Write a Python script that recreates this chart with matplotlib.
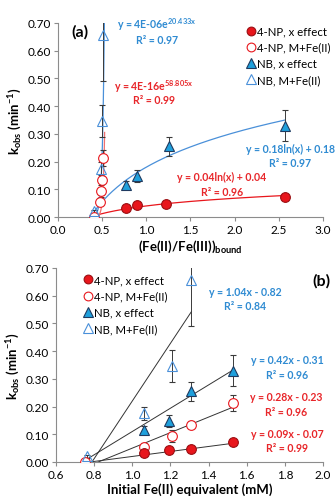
import matplotlib
matplotlib.use("Agg")
import matplotlib.pyplot as plt
import numpy as np

plt.rcParams['font.family'] = ['Lato', 'DejaVu Sans']
plt.rcParams['mathtext.fontset'] = 'custom'
plt.rcParams['mathtext.rm'] = 'Lato'
plt.rcParams['mathtext.bf'] = 'Lato:bold'
plt.rcParams['mathtext.default'] = 'bf'

# panel (a): k_obs vs (Fe(II)/Fe(III))bound
ratio_np_x = [0.77, 0.90, 1.22, 2.57]
ratio_np_m = [0.41, 0.48, 0.49, 0.50, 0.51]
ratio_nb_x = [0.77, 0.89, 1.26, 2.57]
ratio_nb_m = [0.41, 0.49, 0.50, 0.51]

# panel (b): k_obs vs initial Fe(II)
fe_np_x = [1.06, 1.19, 1.31, 1.53]
fe_np_m = [0.75, 1.06, 1.21, 1.31, 1.53]
fe_nb_x = [1.06, 1.19, 1.31, 1.53]
fe_nb_m = [0.76, 1.06, 1.21, 1.31]

k_np_x = [0.033, 0.042, 0.048, 0.072]
k_np_m = [0.000, 0.055, 0.093, 0.135, 0.213]
k_nb_x = [0.115, 0.148, 0.255, 0.330]
k_nb_m = [0.020, 0.175, 0.345, 0.655]

err_np_x = [0.004, 0.004, 0.004, 0.005]
err_np_m = [0.003, 0.012, 0.022, 0.012, 0.028]
err_nb_x = [0.015, 0.020, 0.035, 0.055]
err_nb_m = [0.005, 0.025, 0.058, 0.165]

# trendline parameters
log_nb = (0.18, 0.18)
log_np = (0.04, 0.04)
exp_nb = (3.9e-11, 45.0)   # drawn curve
exp_np = (1.0e-14, 58.805)
lin_b = {'np_x': (0.09, -0.07), 'np_m': (0.28, -0.23),
         'nb_x': (0.42, -0.31), 'nb_m': (1.04, -0.82)}

RED = '#E8161C'
RED_EDGE = '#9A0E12'
BLUE = '#1FA0DC'
BLUE_EDGE = '#1F3A60'
LBLUE = '#4A90D9'
RTXT = '#E8262A'
BTXT = '#2F8BD2'
EBAR = '#3A3A3A'
AX = '#8C8C8C'

fig = plt.figure(figsize=(3.36, 5.02), dpi=100)
ax1 = fig.add_axes([0.1726, 0.5657, 0.7887, 0.3865])
ax2 = fig.add_axes([0.1667, 0.0777, 0.7946, 0.3865])


def style(ax):
    for s in ['top', 'right']:
        ax.spines[s].set_visible(False)
    for s in ['left', 'bottom']:
        ax.spines[s].set_color(AX)
        ax.spines[s].set_linewidth(0.8)
    ax.tick_params(direction='out', length=3, width=0.8, color=AX,
                   labelsize=8.5, pad=2)
    ax.set_ylim(0, 0.70)
    ax.set_yticks(np.arange(0, 0.71, 0.1))
    ax.set_yticklabels(['%.2f' % v for v in np.arange(0, 0.71, 0.1)])
    ax.set_ylabel('k$_{obs}$ (min$^{-1}$)', fontsize=9.5, fontweight='bold',
                  labelpad=3)


def series(ax, x, y, e):
    kw = dict(mew=0.8, ecolor=EBAR, elinewidth=0.7, capsize=2, capthick=0.7)
    ax.errorbar(x[0], y[0], yerr=e[0], fmt='o', ms=7, mfc=RED, mec=RED_EDGE,
                zorder=5, label='4-NP, x effect', **kw)
    ax.errorbar(x[1], y[1], yerr=e[1], fmt='o', ms=7, mfc='white', mec=RED,
                zorder=4, label='4-NP, M+Fe(II)', **kw)
    ax.errorbar(x[2], y[2], yerr=e[2], fmt='^', ms=7.5, mfc=BLUE, mec=BLUE_EDGE,
                zorder=5, label='NB, x effect', **kw)
    ax.errorbar(x[3], y[3], yerr=e[3], fmt='^', ms=7.5, mfc='none', mec=LBLUE,
                zorder=4, label='NB, M+Fe(II)', **kw)


def legend(ax, loc, anchor):
    h, l = ax.get_legend_handles_labels()
    h = [hh[0] for hh in h]
    ax.legend(h, l, loc=loc, bbox_to_anchor=anchor, frameon=False,
              fontsize=8.2, handlelength=0.6, handletextpad=0.2,
              labelspacing=0.45, borderaxespad=0, markerscale=0.9)


# ---- panel (a)
style(ax1)
ax1.set_xlim(0, 3.0)
ax1.set_xticks(np.arange(0, 3.01, 0.5))
ax1.set_xticklabels(['%.1f' % v for v in np.arange(0, 3.01, 0.5)])
ax1.set_xlabel('(Fe(II)/Fe(III))$_{bound}$', fontsize=9.5, fontweight='bold',
               labelpad=2)

xs = np.linspace(0.41, 2.57, 200)
ax1.plot(xs, log_nb[0] * np.log(xs) + log_nb[1], color=LBLUE, lw=0.9, zorder=2)
xs = np.linspace(0.42, 2.57, 200)
ax1.plot(xs, log_np[0] * np.log(xs) + log_np[1], color=RED, lw=0.9, zorder=2)
xs = np.linspace(0.40, 0.53, 200)
ax1.plot(xs, exp_nb[0] * np.exp(exp_nb[1] * xs), color=LBLUE, lw=0.9, zorder=2)
xs = np.linspace(0.44, 0.528, 200)
ax1.plot(xs, exp_np[0] * np.exp(exp_np[1] * xs), color='#F07070', lw=0.9, zorder=2)

series(ax1, [ratio_np_x, ratio_np_m, ratio_nb_x, ratio_nb_m],
       [k_np_x, k_np_m, k_nb_x, k_nb_m],
       [err_np_x, err_np_m, err_nb_x, err_nb_m])
legend(ax1, 'upper left', (0.70, 1.01))

tk = dict(fontsize=7.6, fontweight='bold', ha='center', va='center',
          transform=fig.transFigure)
ax1.text(157 / 336, 1 - 25 / 502, 'y = 4E-06e$^{20.433x}$', color=BTXT, **tk)
ax1.text(157 / 336, 1 - 40 / 502, 'R² = 0.97', color=BTXT, **tk)
ax1.text(154 / 336, 1 - 87 / 502, 'y = 4E-16e$^{58.805x}$', color=RTXT, **tk)
ax1.text(154 / 336, 1 - 101 / 502, 'R² = 0.99', color=RTXT, **tk)
ax1.text(290 / 336, 1 - 149 / 502, 'y = 0.18ln(x) + 0.18', color=BTXT, **tk)
ax1.text(290 / 336, 1 - 164 / 502, 'R² = 0.97', color=BTXT, **tk)
ax1.text(222 / 336, 1 - 177 / 502, 'y = 0.04ln(x) + 0.04', color=RTXT, **tk)
ax1.text(222 / 336, 1 - 192 / 502, 'R² = 0.96', color=RTXT, **tk)
fig.text(80 / 336, 1 - 32 / 502, '(a)', fontsize=11.5, fontweight='bold',
         ha='center', va='center')

# ---- panel (b)
style(ax2)
ax2.set_xlim(0.6, 2.0)
ax2.set_xticks(np.arange(0.6, 2.01, 0.2))
ax2.set_xticklabels(['%.1f' % v for v in np.arange(0.6, 2.01, 0.2)])
ax2.set_xlabel('Initial Fe(II) equivalent (mM)', fontsize=9.5,
               fontweight='bold', labelpad=2)

for key, xmax in [('np_x', 1.53), ('np_m', 1.53), ('nb_x', 1.53), ('nb_m', 1.31)]:
    m, c = lin_b[key]
    xs = np.array([0.76, xmax])
    ax2.plot(xs, m * xs + c, color='#333333', lw=0.7, zorder=2)

series(ax2, [fe_np_x, fe_np_m, fe_nb_x, fe_nb_m],
       [k_np_x, k_np_m, k_nb_x, k_nb_m],
       [err_np_x, err_np_m, err_nb_x, err_nb_m])
legend(ax2, 'upper left', (0.09, 0.99))

ax2.text(245 / 336, 1 - 292 / 502, 'y = 1.04x - 0.82', color=BTXT, **tk)
ax2.text(245 / 336, 1 - 307 / 502, 'R² = 0.84', color=BTXT, **tk)
ax2.text(287 / 336, 1 - 361 / 502, 'y = 0.42x - 0.31', color=BTXT, **tk)
ax2.text(287 / 336, 1 - 376 / 502, 'R² = 0.96', color=BTXT, **tk)
ax2.text(286 / 336, 1 - 398 / 502, 'y = 0.28x - 0.23', color=RTXT, **tk)
ax2.text(286 / 336, 1 - 412 / 502, 'R² = 0.96', color=RTXT, **tk)
ax2.text(287 / 336, 1 - 435 / 502, 'y = 0.09x - 0.07', color=RTXT, **tk)
ax2.text(287 / 336, 1 - 449 / 502, 'R² = 0.99', color=RTXT, **tk)
fig.text(321 / 336, 1 - 281 / 502, '(b)', fontsize=11.5, fontweight='bold',
         ha='center', va='center')

fig.savefig('out.png', dpi=100)
